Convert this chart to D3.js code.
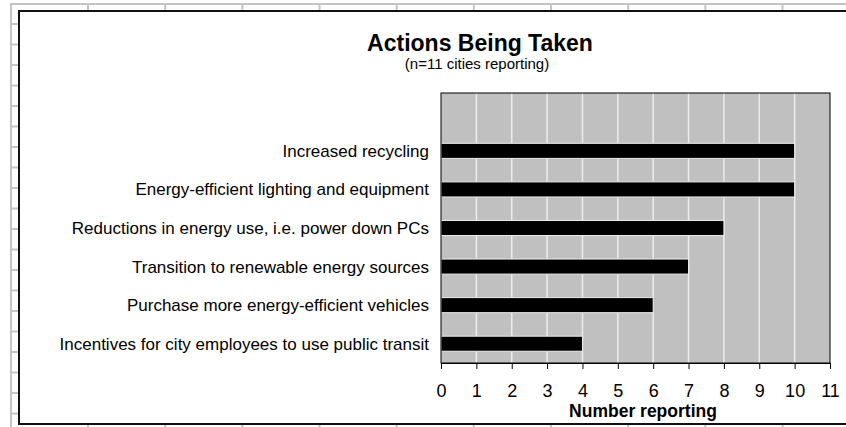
<!DOCTYPE html>
<html>
<head>
<meta charset="utf-8">
<script src="https://cdn.jsdelivr.net/npm/d3@7"></script>
<style>
body { margin: 0; background: #fff; }
text { font-family: "Liberation Sans", Arial, sans-serif; fill: #000; }
</style>
</head>
<body>
<script>
var categories = [
	"Increased recycling",
	"Energy-efficient lighting and equipment",
	"Reductions in energy use, i.e. power down PCs",
	"Transition to renewable energy sources",
	"Purchase more energy-efficient vehicles",
	"Incentives for city employees to use public transit"
];
var values = [10, 10, 8, 7, 6, 4];
var xTicks = [0, 1, 2, 3, 4, 5, 6, 7, 8, 9, 10, 11];

function drawChart() {
	var svg = d3.select("body").append("svg").attr("width", 846).attr("height", 427);

	// spreadsheet grid behind the chart object
	var sheet = svg.append("g").attr("stroke", "#c4c4c4").attr("stroke-width", 2);
	sheet.append("line").attr("x1", 10).attr("y1", 4).attr("x2", 846).attr("y2", 4);
	sheet.append("line").attr("x1", 11).attr("y1", 4).attr("x2", 11).attr("y2", 427);
	d3.range(10).forEach(function(k) {
		var cx = 88 + k * 77.17;
		sheet.append("line").attr("x1", cx).attr("y1", 4).attr("x2", cx).attr("y2", 12);
		sheet.append("line").attr("x1", cx).attr("y1", 423).attr("x2", cx).attr("y2", 427);
	});
	d3.range(20).forEach(function(k) {
		var ry = 24 + k * 20.5;
		sheet.append("line").attr("x1", 11).attr("y1", ry).attr("x2", 20).attr("y2", ry);
	});

	// chart frame
	svg.append("rect").attr("x", 19).attr("y", 11).attr("width", 840).attr("height", 413)
		.attr("fill", "#fff").attr("stroke", "#111").attr("stroke-width", 2);

	var left = 441, right = 830, top = 93, bottom = 363;

	var x = d3.scaleLinear().domain([0, 11]).range([left, right]);
	var y = d3.scaleBand().domain([""].concat(categories)).range([top, bottom])
		.paddingInner(0.61).paddingOuter(0.305);

	svg.append("rect").attr("x", left).attr("y", top)
		.attr("width", right - left).attr("height", bottom - top)
		.attr("fill", "#c0c0c0");

	svg.append("g").selectAll("line").data(xTicks.slice(1, -1)).enter().append("line")
		.attr("x1", function(d) { return x(d); }).attr("x2", function(d) { return x(d); })
		.attr("y1", top).attr("y2", bottom)
		.attr("stroke", "#ececec").attr("stroke-width", 1.5);

	svg.append("g").selectAll("rect").data(values).enter().append("rect")
		.attr("x", x(0))
		.attr("y", function(d, i) { return y(categories[i]); })
		.attr("width", function(d) { return x(d) - x(0); })
		.attr("height", y.bandwidth())
		.attr("fill", "#000")
		.attr("stroke", "#ececec").attr("stroke-width", 1);

	svg.append("rect").attr("x", left).attr("y", top)
		.attr("width", right - left).attr("height", bottom - top)
		.attr("fill", "none").attr("stroke", "#000").attr("stroke-width", 1);

	var xAxis = svg.append("g").attr("transform", "translate(0," + bottom + ")")
		.call(d3.axisBottom(x).tickValues(xTicks).tickSize(6).tickPadding(15).tickFormat(d3.format("d")));
	xAxis.select(".domain").attr("stroke", "#000");
	xAxis.selectAll(".tick line").attr("stroke", "#000");
	xAxis.selectAll("text").style("font-family", "'Liberation Sans', Arial, sans-serif")
		.style("font-size", "18px").attr("fill", "#000");

	svg.append("g").selectAll("text").data(categories).enter().append("text")
		.attr("x", 429)
		.attr("y", function(d) { return y(d) + y.bandwidth() / 2; })
		.attr("dy", "0.35em")
		.attr("text-anchor", "end")
		.style("font-size", "17px")
		.text(function(d) { return d; });

	svg.append("text").attr("x", 480).attr("y", 51).attr("text-anchor", "middle")
		.style("font-size", "23px").style("font-weight", "bold").text("Actions Being Taken");
	svg.append("text").attr("x", 477).attr("y", 69).attr("text-anchor", "middle")
		.style("font-size", "15px").text("(n=11 cities reporting)");
	svg.append("text").attr("x", 643).attr("y", 417).attr("text-anchor", "middle")
		.style("font-size", "17.5px").style("font-weight", "bold").text("Number reporting");
}

drawChart();
</script>
</body>
</html>
